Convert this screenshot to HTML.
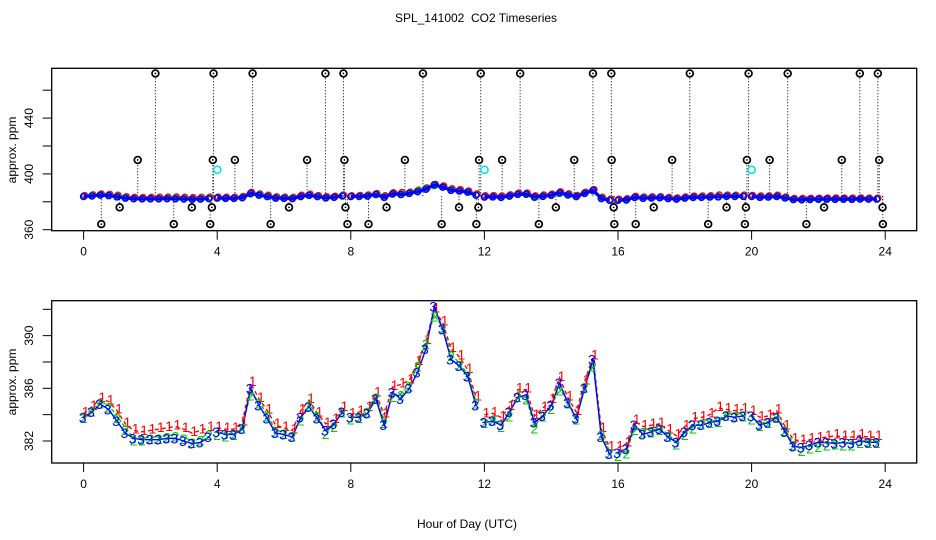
<!DOCTYPE html>
<html><head><meta charset="utf-8"><style>
body{margin:0;background:#fff;}
svg{display:block;font-family:"Liberation Sans",Arial,sans-serif;}
</style></head><body>
<svg id="c" width="936" height="540" viewBox="0 0 936 540">
<rect width="936" height="540" fill="#fff"/>
<text x="476" y="22" font-size="12" text-anchor="middle">SPL_141002&#160; CO2 Timeseries</text>
<text x="467" y="528" font-size="12" text-anchor="middle">Hour of Day (UTC)</text>
</svg>
<script>
const hours=[0,0.25,0.5,0.75,1,1.25,1.5,1.75,2,2.25,2.5,2.75,3,3.25,3.5,3.75,4,4.25,4.5,4.75,5,5.25,5.5,5.75,6,6.25,6.5,6.75,7,7.25,7.5,7.75,8,8.25,8.5,8.75,9,9.25,9.5,9.75,10,10.25,10.5,10.75,11,11.25,11.5,11.75,12,12.25,12.5,12.75,13,13.25,13.5,13.75,14,14.25,14.5,14.75,15,15.25,15.5,15.75,16,16.25,16.5,16.75,17,17.25,17.5,17.75,18,18.25,18.5,18.75,19,19.25,19.5,19.75,20,20.25,20.5,20.75,21,21.25,21.5,21.75,22,22.25,22.5,22.75,23,23.25,23.5,23.75];
const series3=[383.8,384.2,384.8,384.4,383.5,382.6,382.2,382.1,382.1,382.1,382.2,382.2,382.0,381.8,381.9,382.3,382.7,382.5,382.5,382.9,386.0,384.7,383.7,382.6,382.5,382.3,383.8,384.6,383.7,382.8,383.3,384.2,383.8,383.8,384.1,385.2,383.2,385.7,385.2,386.0,387.2,389.0,392.2,390.5,388.2,387.7,386.9,384.7,383.4,383.5,383.2,384.2,385.3,385.5,383.4,383.9,384.7,386.4,384.9,383.7,386.0,388.2,382.3,381.0,381.1,381.4,383.2,382.5,382.7,382.9,382.3,381.9,382.7,383.2,383.2,383.4,383.5,383.9,383.8,383.9,383.9,383.2,383.4,383.8,382.7,381.6,381.5,381.7,381.9,381.9,381.8,381.9,381.8,382.0,381.9,381.9];
const series2=[383.9,384.4,385.0,384.7,383.9,383.0,382.2,382.2,382.3,382.3,382.4,382.5,382.3,382.0,382.2,382.6,382.6,382.5,382.6,383.1,385.6,385.0,384.0,382.8,382.7,382.5,383.7,384.8,384.0,382.7,383.2,384.3,383.8,383.9,384.3,385.4,383.5,385.5,385.6,386.3,387.8,389.5,391.6,390.6,388.6,387.9,387.1,385.0,383.5,383.7,383.2,384.0,385.5,385.3,383.1,384.0,384.6,386.0,385.0,383.8,386.2,387.8,382.6,381.2,381.0,381.2,383.0,382.8,382.8,383.0,382.5,381.9,382.6,383.1,383.4,383.5,383.6,384.1,384.0,384.0,383.8,383.3,383.5,383.9,382.9,381.8,381.4,381.6,381.7,381.8,381.9,381.8,381.8,382.0,382.0,382.0];
const series1=[384.1,384.6,385.2,385.0,384.3,383.3,382.8,382.7,382.8,382.9,383.0,383.1,382.9,382.6,382.8,383.0,383.0,382.9,382.9,383.4,386.4,385.2,384.3,383.2,383.0,382.8,384.3,385.1,384.1,383.3,383.6,384.5,384.0,384.2,384.5,385.6,384.0,386.1,386.3,386.6,388.0,389.6,392.0,391.0,389.0,388.4,387.4,385.3,384.0,384.1,383.8,384.6,385.9,385.9,383.9,384.5,385.1,386.8,385.3,384.2,386.5,388.4,382.9,381.5,381.5,381.8,383.5,383.1,383.2,383.3,382.8,382.4,383.1,383.7,383.8,384.0,384.5,384.4,384.3,384.4,384.2,383.8,383.9,384.3,383.1,382.1,382.0,382.1,382.2,382.3,382.4,382.3,382.3,382.4,382.3,382.3];
const gapHours=[3.9,7.9,11.95,15.9,19.9];
const outlierHours=[2.15,3.89,5.06,7.24,7.78,10.16,11.89,13.07,15.25,15.80,18.15,19.91,21.08,23.24,23.78,1.62,3.87,4.53,6.69,7.81,9.62,11.84,12.53,14.69,15.81,17.62,19.86,20.54,22.7,23.82,1.08,3.24,3.84,6.15,7.84,9.07,11.24,11.82,14.14,15.87,17.07,19.25,19.83,22.17,23.92,0.53,2.7,3.79,5.6,7.9,8.53,10.72,11.76,13.63,15.89,16.53,18.7,19.8,21.64,23.93];
const outlierValues=[472,472,472,472,472,472,472,472,472,472,472,472,472,472,472,410,410,410,410,410,410,410,410,410,410,410,410,410,410,410,376,376,376,376,376,376,376,376,376,376,376,376,376,376,376,364,364,364,364,364,364,364,364,364,364,364,364,364,364,364];
const calHours=[4.0,12.0,20.0];
const calValues=[403,403,403];
const xTicks=[0,4,8,12,16,20,24];
const topYTicks=[360,380,400,420,440,460];
const topYLabels=[360,400,440];
const botYTicks=[382,384,386,388,390,392];
const botYLabels=[382,386,390];

const NS="http://www.w3.org/2000/svg";
const svg=document.getElementById('c');
function mk(tag,attrs,parent){const e=document.createElementNS(NS,tag);for(const k in attrs)e.setAttribute(k,attrs[k]);(parent||svg).appendChild(e);return e;}
const xS=h=>83.6+h*33.4;
const yTop=v=>229.7-(v-360)*1.395;
const yBot=v=>441-(v-382)*13.17;
const L=51.7,R=916.7;
function segments(s,yS){
  const segs=[];let cur=[];
  s.forEach((v,i)=>{
    if(i>0&&gapHours.some(g=>hours[i-1]<g&&hours[i]>g)){segs.push(cur);cur=[];}
    cur.push(xS(hours[i])+','+yS(v));
  });
  segs.push(cur);return segs;
}

function axes(gName,top,bottom,yS,yt,yl,ytitleY){
  const g=mk('g',{});
  
  
  const box=mk('rect',{x:L,y:top,width:R-L,height:bottom-top,fill:'none',stroke:'#000','stroke-width':1.3},g);
  
  
  xTicks.forEach(t=>{
    const ln=mk('line',{x1:xS(t),x2:xS(t),y1:bottom,y2:bottom+9,stroke:'#000'},g);
    
    
    const tx=mk('text',{x:xS(t),y:bottom+25,'font-size':12,'text-anchor':'middle'},g);
    tx.textContent=t;
    
    
  });
  yt.forEach(t=>{
    const ln=mk('line',{x1:L,x2:L-9,y1:yS(t),y2:yS(t),stroke:'#000'},g);
    
    
  });
  yl.forEach(t=>{
    const tx=mk('text',{x:0,y:0,'font-size':12,'text-anchor':'middle',transform:`translate(33,${yS(t)}) rotate(-90)`},g);
    tx.textContent=t;
    
    
  });
  const tt=mk('text',{x:0,y:0,'font-size':12,'text-anchor':'middle',transform:`translate(16,${ytitleY}) rotate(-90)`},g);
  tt.textContent='approx. ppm';
  
  
  return g;
}
axes('top-panel-axes',68.3,230.7,yTop,topYTicks,topYLabels,150);
axes('bottom-panel-axes',300.7,463,yBot,botYTicks,botYLabels,382);

// top panel
const tp=mk('g',{});


outlierHours.forEach((h,i)=>{
  const ln=mk('line',{x1:xS(h),x2:xS(h),y1:yTop(384),y2:yTop(outlierValues[i]),stroke:'#000','stroke-width':1,'stroke-dasharray':'1,2'},tp);
  
  
});
[[series1,'#ff0000'],[series2,'#00cc00'],[series3,'#0000ff']].forEach(([s,c],k)=>{
  segments(s,yTop).forEach(seg=>{
    const pl=mk('polyline',{points:seg.join(' '),fill:'none',stroke:c,'stroke-width':3,'stroke-linejoin':'round'},tp);
    
    
  });
  s.forEach((v,i)=>{
    const ci=mk('circle',{cx:xS(hours[i])+(k==0?1:0),cy:yTop(v)-(k==0?0.5:0),r:3,fill:'none',stroke:c,'stroke-width':1.5},tp);
    
    
  });
});
outlierHours.forEach((h,i)=>{
  const ci=mk('circle',{cx:xS(h),cy:yTop(outlierValues[i]),r:3.4,fill:'#fff',stroke:'#000','stroke-width':1.7},tp);
  
  
  const d=mk('circle',{cx:xS(h),cy:yTop(outlierValues[i]),r:0.9,fill:'#000'},tp);
  
  
});
calHours.forEach((h,i)=>{
  const ci=mk('circle',{cx:xS(h),cy:yTop(calValues[i]),r:3.6,fill:'none',stroke:'#00e5ee','stroke-width':1.6},tp);
  
  
});

// bottom panel
const bp=mk('g',{});


[[series1,'#ff0000','1','4,3'],[series2,'#00cc00','2','4,2'],[series3,'#0000ff','3','']].forEach(([s,c,ch,da])=>{
  segments(s,yBot).forEach(seg=>{
    const attrs={points:seg.join(' '),fill:'none',stroke:c,'stroke-width':1.4};
    if(da)attrs['stroke-dasharray']=da;
    const pl=mk('polyline',attrs,bp);
    
    
  });
});
[[series1,'#ff0000','1',2,-2],[series2,'#00cc00','2',0,2],[series3,'#0000ff','3',-1,0]].forEach(([s,c,ch,dx,dy])=>{
  s.forEach((v,i)=>{
    const t=mk('text',{x:xS(hours[i])+dx,y:yBot(v)+dy+5,'font-size':14,'text-anchor':'middle',fill:c},bp);
    t.textContent=ch;
    
    
  });
});
</script>
</body></html>
